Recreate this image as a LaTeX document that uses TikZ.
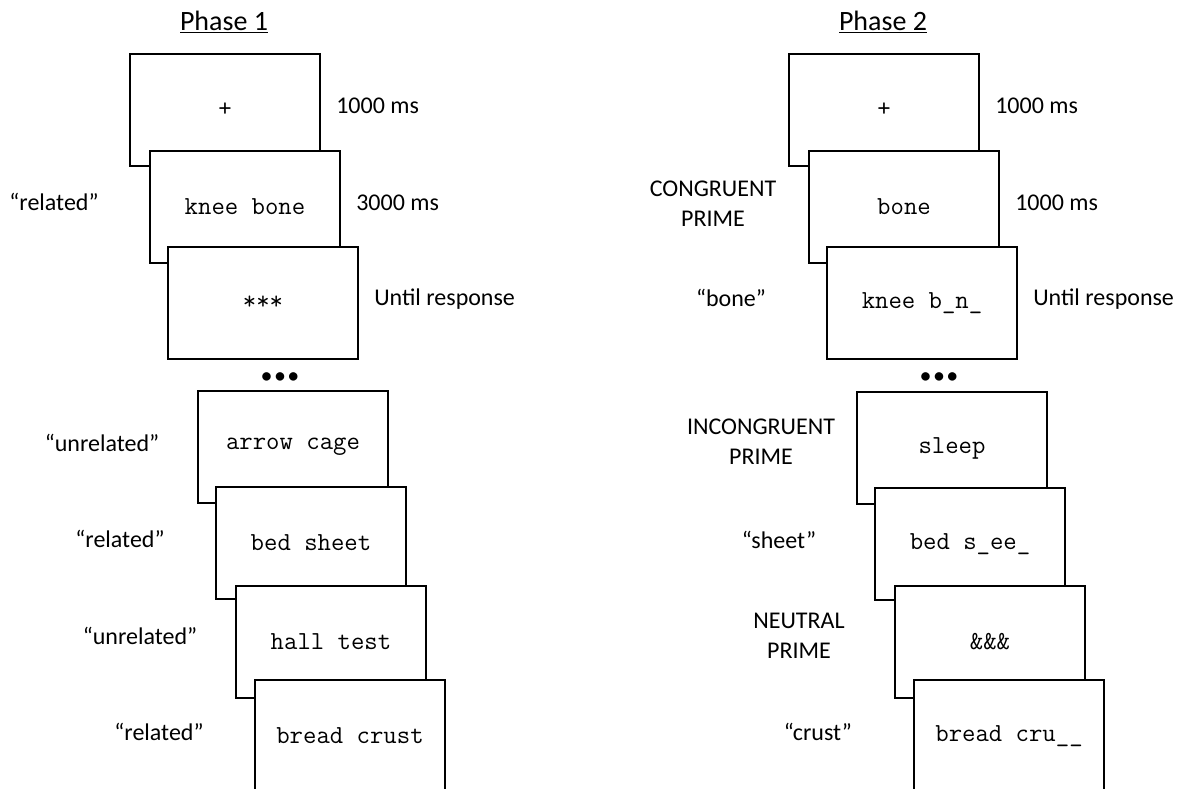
\documentclass[tikz,border=0pt]{standalone}
\usepackage{fontspec}
\setmainfont{Carlito}
\usetikzlibrary{calc}
\begin{document}
\begin{tikzpicture}[x=0.75pt,y=-0.75pt,
  screen/.style={draw, line width=1.5pt, fill=white, minimum width=142.5pt,
    minimum height=84pt, anchor=north west, inner sep=0pt,
    font=\ttfamily\fontsize{19.5}{22}\selectfont},
  lab/.style={font=\fontsize{18}{22.5}\selectfont, align=center, inner sep=0pt},
  timelab/.style={lab, anchor=west},
  phasetitle/.style={font=\fontsize{21}{25}\selectfont, inner sep=0pt},
  dotsnode/.style={font=\bfseries\fontsize{15}{15}\selectfont, inner sep=0pt}]
\useasboundingbox (0,0) rectangle (1182,789);
\clip (0,0) rectangle (1182,789);

% ---------------- Phase 1 ----------------
\node[phasetitle] (t1) at (224,22) {\underline{Phase 1}};
\node[screen] (a1) at (129,53) {+};
\node[screen] (a2) at (149,150) {knee bone};
\node[screen] (a3) at (167,246) {***};
\node[dotsnode] (ad) at (280,378) {•\hspace{2.5pt}•\hspace{2.5pt}•};
\node[screen] (a4) at (197,390) {arrow cage};
\node[screen] (a5) at (215,486) {bed sheet};
\node[screen] (a6) at (235,585) {hall test};
\node[screen] (a7) at (254,679) {bread crust};

\node[timelab] (at1) at ($(a1.east)+(15,-4)$) {1000 ms};
\node[timelab] (at2) at ($(a2.east)+(15,-4)$) {3000 ms};
\node[timelab] (at3) at ($(a3.east)+(15,-4)$) {Until response};

\node[lab] (al2) at ($(a2.west)+(-95,-5)$) {“related”};
\node[lab] (al4) at ($(a4.west)+(-95,-4)$) {“unrelated”};
\node[lab] (al5) at ($(a5.west)+(-95,-4)$) {“related”};
\node[lab] (al6) at ($(a6.west)+(-95,-6)$) {“unrelated”};
\node[lab] (al7) at ($(a7.west)+(-95,-4)$) {“related”};

% ---------------- Phase 2 ----------------
\node[phasetitle] (t2) at (883,22) {\underline{Phase 2}};
\node[screen] (b1) at (788,53) {+};
\node[screen] (b2) at (808,150) {bone};
\node[screen] (b3) at (826,246) {knee b\_n\_};
\node[dotsnode] (bd) at (939,378) {•\hspace{2.5pt}•\hspace{2.5pt}•};
\node[screen] (b4) at (856,391) {sleep};
\node[screen] (b5) at (874,487) {bed s\_ee\_};
\node[screen] (b6) at (894,585) {\&\&\&};
\node[screen] (b7) at (913,679) {bread cru\_\_};

\node[timelab] (bt1) at ($(b1.east)+(15,-4)$) {1000 ms};
\node[timelab] (bt2) at ($(b2.east)+(15,-4)$) {1000 ms};
\node[timelab] (bt3) at ($(b3.east)+(15,-4)$) {Until response};

\node[lab] (bl2) at ($(b2.west)+(-95,-3)$) {CONGRUENT\\PRIME};
\node[lab] (bl3) at ($(b3.west)+(-95,-5)$) {“bone”};
\node[lab] (bl4) at ($(b4.west)+(-95,-6)$) {INCONGRUENT\\PRIME};
\node[lab] (bl5) at ($(b5.west)+(-95,-4)$) {“sheet”};
\node[lab] (bl6) at ($(b6.west)+(-95,-6)$) {NEUTRAL\\PRIME};
\node[lab] (bl7) at ($(b7.west)+(-95,-4)$) {“crust”};
\end{tikzpicture}
\end{document}
